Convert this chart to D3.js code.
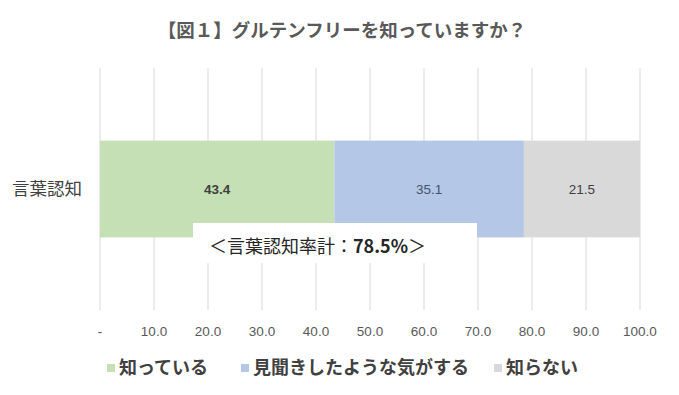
<!DOCTYPE html>
<html>
<head>
<meta charset="utf-8">
<script src="https://cdn.jsdelivr.net/npm/d3@7"></script>
<style>
  body { margin: 0; background: #fff; }
  svg { font-family: "Noto Sans CJK JP", "Noto Sans", sans-serif; }
</style>
</head>
<body>
<div id="chart"></div>
<script>
// chart data
const categories = ["言葉認知"];
const seriesNames = ["知っている", "見聞きしたような気がする", "知らない"];
const seriesValues = [43.4, 35.1, 21.5];
const seriesColors = ["#c5e0b4", "#b4c7e7", "#d9d9d9"];
const tickValues = [0, 10, 20, 30, 40, 50, 60, 70, 80, 90, 100];
const tickLabels = ["-", "10.0", "20.0", "30.0", "40.0", "50.0", "60.0", "70.0", "80.0", "90.0", "100.0"];
const titleText = "【図１】グルテンフリーを知っていますか？";
const noteLabel = "＜言葉認知率計：";
const noteValue = "78.5%";

const WIDTH = 679, HEIGHT = 395;
const PLOT = {left: 100, right: 640, top: 68, bottom: 310};

const svg = d3.select("#chart").append("svg")
    .attr("width", WIDTH)
    .attr("height", HEIGHT);

// title
svg.append("text")
    .attr("x", 342)
    .attr("y", 37)
    .attr("text-anchor", "middle")
    .attr("font-size", 18.5)
    .attr("font-weight", "bold")
    .attr("fill", "#595959")
    .text(titleText);

// scales
const xScale = d3.scaleLinear().domain([0, 100]).range([PLOT.left, PLOT.right]);
const yScale = d3.scaleBand().domain(categories)
    .range([PLOT.top, PLOT.bottom])
    .paddingInner(0).paddingOuter(0.75);

// gridlines
svg.append("g").selectAll("line")
    .data(tickValues)
    .enter().append("line")
    .attr("x1", d => xScale(d)).attr("x2", d => xScale(d))
    .attr("y1", PLOT.top).attr("y2", PLOT.bottom)
    .attr("stroke", "#d9d9d9")
    .attr("stroke-width", 1);

// tick labels
svg.append("g").selectAll("text")
    .data(tickValues)
    .enter().append("text")
    .attr("x", d => xScale(d))
    .attr("y", 336)
    .attr("text-anchor", "middle")
    .attr("font-size", 13.5)
    .attr("font-family", "'Liberation Sans', sans-serif")
    .attr("fill", "#595959")
    .text((d, i) => tickLabels[i]);

// stacked segments
let acc = 0;
const segs = seriesValues.map((v, i) => {
    const s = {name: seriesNames[i], start: acc, end: acc + v, value: v, color: seriesColors[i], i: i};
    acc += v;
    return s;
});

const barG = svg.append("g");
barG.selectAll("rect")
    .data(segs)
    .enter().append("rect")
    .attr("x", d => xScale(d.start))
    .attr("width", d => xScale(d.end) - xScale(d.start))
    .attr("y", yScale(categories[0]))
    .attr("height", yScale.bandwidth())
    .attr("fill", d => d.color);

const yMid = yScale(categories[0]) + yScale.bandwidth() / 2;
barG.selectAll("text")
    .data(segs)
    .enter().append("text")
    .attr("x", d => (xScale(d.start) + xScale(d.end)) / 2)
    .attr("y", yMid + 5)
    .attr("text-anchor", "middle")
    .attr("font-size", 13.5)
    .attr("font-family", "'Liberation Sans', sans-serif")
    .attr("font-weight", d => d.i === 0 ? "bold" : "normal")
    .attr("fill", d => d.i === 1 ? "#44546a" : "#404040")
    .text(d => d.value.toFixed(1));

// category label
svg.append("text")
    .attr("x", 47)
    .attr("y", yMid + 6)
    .attr("text-anchor", "middle")
    .attr("font-size", 17.5)
    .attr("fill", "#404040")
    .text(categories[0]);

// annotation box
svg.append("rect")
    .attr("x", 193).attr("y", 223)
    .attr("width", 284).attr("height", 40)
    .attr("fill", "#fff");
const note = svg.append("text")
    .attr("x", 209)
    .attr("y", 253)
    .attr("font-size", 18)
    .attr("fill", "#262626");
note.append("tspan").text(noteLabel);
note.append("tspan").attr("font-weight", "bold").text(noteValue);
note.append("tspan").text("＞");

// legend
const legendX = [107, 241, 494];
const legend = svg.append("g").selectAll("g")
    .data(segs)
    .enter().append("g")
    .attr("transform", d => "translate(" + legendX[d.i] + ",364)");
legend.append("rect")
    .attr("width", 8).attr("height", 8)
    .attr("fill", d => d.color);
legend.append("text")
    .attr("x", 12)
    .attr("y", 10)
    .attr("font-size", 18)
    .attr("font-weight", "bold")
    .attr("fill", "#404040")
    .text(d => d.name);
</script>
</body>
</html>
